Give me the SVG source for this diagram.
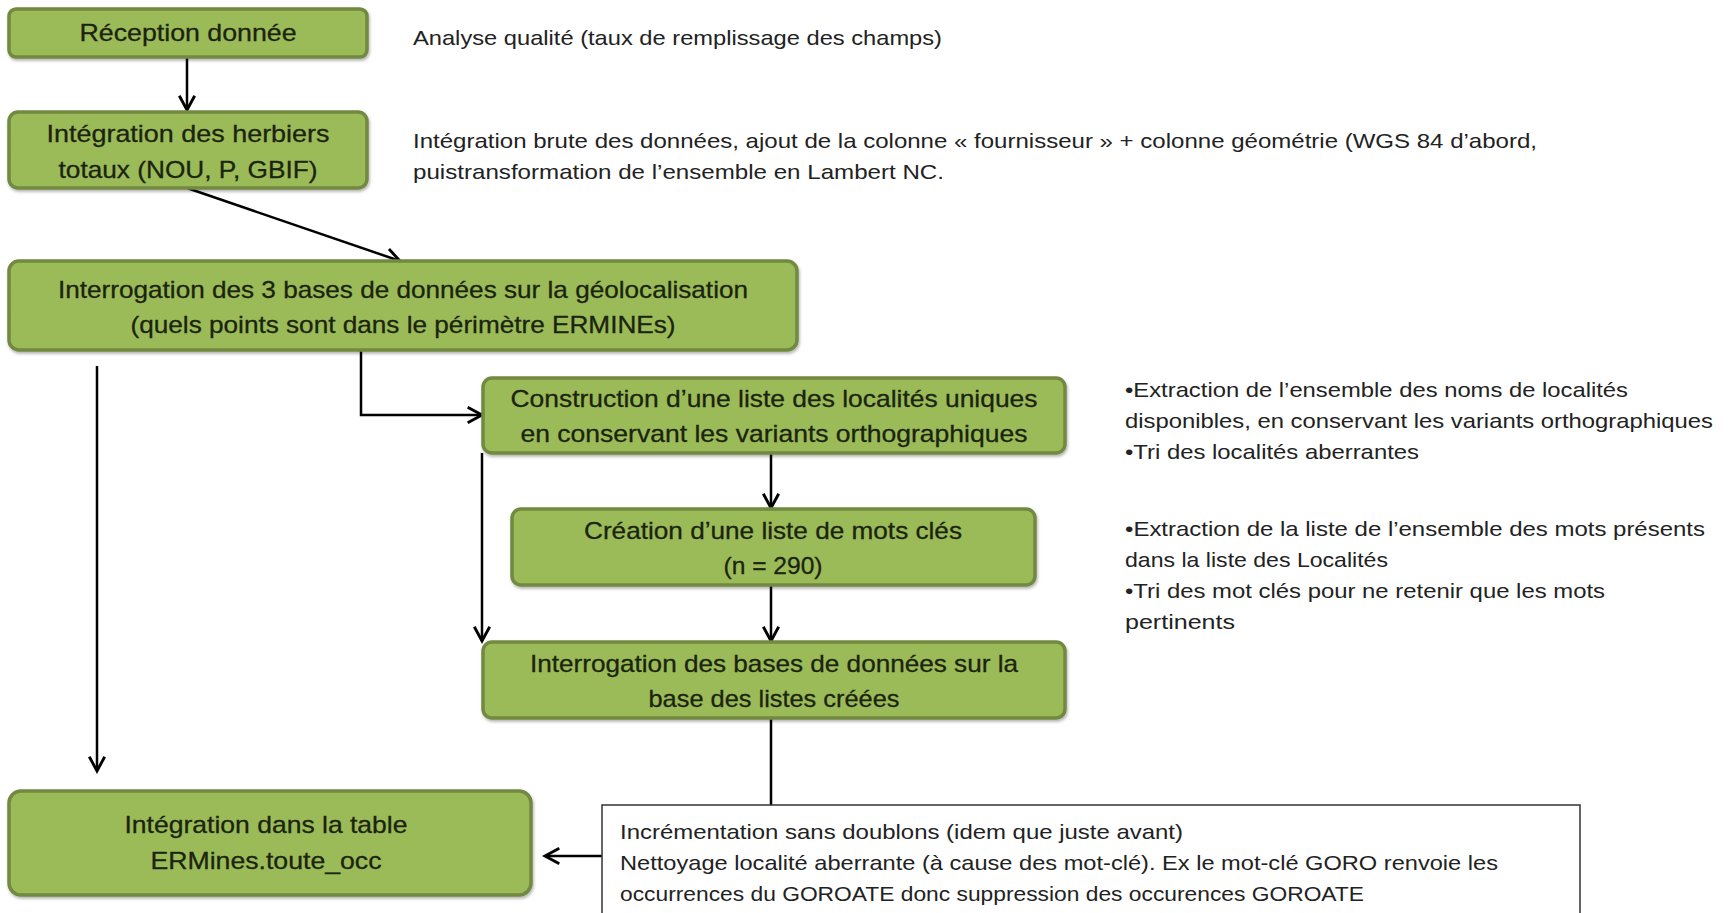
<svg xmlns="http://www.w3.org/2000/svg" width="1728" height="913" viewBox="0 0 1728 913">
<defs>
<marker id="arr" viewBox="0 0 20 20" refX="18" refY="10" markerWidth="22" markerHeight="22" markerUnits="userSpaceOnUse" orient="auto" overflow="visible">
<path d="M5,3 L18,10 L5,17" fill="none" stroke="#000" stroke-width="2.6"/>
</marker>
<filter id="sh" x="-5%" y="-10%" width="110%" height="130%">
<feDropShadow dx="1" dy="2" stdDeviation="1.5" flood-color="#000" flood-opacity="0.3"/>
</filter>
</defs>
<style>
.box{fill:#9BBB59;stroke:#71893F;stroke-width:3.5;filter:url(#sh)}
.bt{font-family:"Liberation Sans",Arial,sans-serif;font-size:24px;fill:#1B2410;text-anchor:middle;stroke:#1B2410;stroke-width:0.3}
.rt{font-family:"Liberation Sans",Arial,sans-serif;font-size:21px;fill:#222}
.cn{fill:none;stroke:#000;stroke-width:2.5}
</style>
<rect width="1728" height="913" fill="#fff"/>
<g id="connectors">
<line class="cn" x1="187" y1="57" x2="187" y2="110" marker-end="url(#arr)"/>
<line class="cn" x1="187" y1="188" x2="400" y2="261" marker-end="url(#arr)"/>
<polyline class="cn" points="361,350 361,415 482,415" marker-end="url(#arr)"/>
<line class="cn" x1="97" y1="366" x2="97" y2="771" marker-end="url(#arr)"/>
<line class="cn" x1="482" y1="453" x2="482" y2="641" marker-end="url(#arr)"/>
<line class="cn" x1="771" y1="453" x2="771" y2="508" marker-end="url(#arr)"/>
<line class="cn" x1="771" y1="585" x2="771" y2="641" marker-end="url(#arr)"/>
<line class="cn" x1="771" y1="718" x2="771" y2="805"/>
<line class="cn" x1="602" y1="856" x2="545" y2="856" marker-end="url(#arr)"/>
</g>
<g id="n-reception">
<rect class="box" x="9" y="9" width="358" height="48" rx="7"/>
<text class="bt" x="188" y="41" textLength="217" lengthAdjust="spacingAndGlyphs">Réception donnée</text>
</g>
<g id="n-integration-herbiers">
<rect class="box" x="9" y="112" width="358" height="76" rx="9"/>
<text class="bt" x="188" y="142" textLength="283" lengthAdjust="spacingAndGlyphs">Intégration des herbiers</text>
<text class="bt" x="188" y="178" textLength="259" lengthAdjust="spacingAndGlyphs">totaux (NOU, P, GBIF)</text>
</g>
<g id="n-interrogation-3">
<rect class="box" x="9" y="261" width="788" height="89" rx="10"/>
<text class="bt" x="403" y="298" textLength="690" lengthAdjust="spacingAndGlyphs">Interrogation des 3 bases de données sur la géolocalisation</text>
<text class="bt" x="403" y="333" textLength="545" lengthAdjust="spacingAndGlyphs">(quels points sont dans le périmètre ERMINEs)</text>
</g>
<g id="n-construction">
<rect class="box" x="483" y="378" width="582" height="75" rx="9"/>
<text class="bt" x="774" y="407" textLength="527" lengthAdjust="spacingAndGlyphs">Construction d’une liste des localités uniques</text>
<text class="bt" x="774" y="442" textLength="507" lengthAdjust="spacingAndGlyphs">en conservant les variants orthographiques</text>
</g>
<g id="n-creation">
<rect class="box" x="512" y="509" width="523" height="76" rx="9"/>
<text class="bt" x="773" y="539" textLength="378" lengthAdjust="spacingAndGlyphs">Création d’une liste de mots clés</text>
<text class="bt" x="773" y="574" textLength="99" lengthAdjust="spacingAndGlyphs">(n = 290)</text>
</g>
<g id="n-interrogation-bases">
<rect class="box" x="483" y="642" width="582" height="76" rx="9"/>
<text class="bt" x="774" y="672" textLength="488" lengthAdjust="spacingAndGlyphs">Interrogation des bases de données sur la</text>
<text class="bt" x="774" y="707" textLength="251" lengthAdjust="spacingAndGlyphs">base des listes créées</text>
</g>
<g id="n-integration-table">
<rect class="box" x="9" y="791" width="522" height="104" rx="12"/>
<text class="bt" x="266" y="833" textLength="283" lengthAdjust="spacingAndGlyphs">Intégration dans la table</text>
<text class="bt" x="266" y="869" textLength="231" lengthAdjust="spacingAndGlyphs">ERMines.toute_occ</text>
</g>
<g id="n-nettoyage">
<rect x="602" y="805" width="978" height="120" fill="#fff" stroke="#333" stroke-width="1.5"/>
<text class="rt" x="620" y="839" textLength="563" lengthAdjust="spacingAndGlyphs">Incrémentation sans doublons (idem que juste avant)</text>
<text class="rt" x="620" y="870" textLength="878" lengthAdjust="spacingAndGlyphs">Nettoyage localité aberrante (à cause des mot-clé). Ex le mot-clé GORO renvoie les</text>
<text class="rt" x="620" y="901" textLength="744" lengthAdjust="spacingAndGlyphs">occurrences du GOROATE donc suppression des occurences GOROATE</text>
</g>
<g id="notes">
<text class="rt" x="413" y="45" textLength="529" lengthAdjust="spacingAndGlyphs">Analyse qualité (taux de remplissage des champs)</text>
<text class="rt" x="413" y="148" textLength="1124" lengthAdjust="spacingAndGlyphs">Intégration brute des données, ajout de la colonne « fournisseur » + colonne géométrie (WGS 84 d’abord,</text>
<text class="rt" x="413" y="179" textLength="531" lengthAdjust="spacingAndGlyphs">puistransformation de l’ensemble en Lambert NC.</text>
<text class="rt" x="1125" y="397" textLength="503" lengthAdjust="spacingAndGlyphs">•Extraction de l’ensemble des noms de localités</text>
<text class="rt" x="1125" y="428" textLength="588" lengthAdjust="spacingAndGlyphs">disponibles, en conservant les variants orthographiques</text>
<text class="rt" x="1125" y="459" textLength="294" lengthAdjust="spacingAndGlyphs">•Tri des localités aberrantes</text>
<text class="rt" x="1125" y="536" textLength="580" lengthAdjust="spacingAndGlyphs">•Extraction de la liste de l’ensemble des mots présents</text>
<text class="rt" x="1125" y="567" textLength="263" lengthAdjust="spacingAndGlyphs">dans la liste des Localités</text>
<text class="rt" x="1125" y="598" textLength="480" lengthAdjust="spacingAndGlyphs">•Tri des mot clés pour ne retenir que les mots</text>
<text class="rt" x="1125" y="629" textLength="110" lengthAdjust="spacingAndGlyphs">pertinents</text>
</g>
</svg>
